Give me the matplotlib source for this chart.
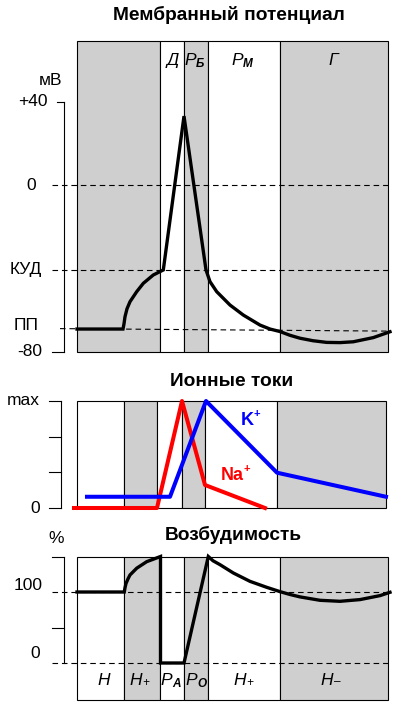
import matplotlib
matplotlib.use('Agg')
import matplotlib.pyplot as plt
from matplotlib.patches import Rectangle

plt.rcParams['font.family'] = ['Liberation Sans', 'DejaVu Sans']

W, H = 396, 710

# --- Membrane potential (time in arbitrary units, mV) ---
mp_t = [77, 123, 124, 125, 127, 130, 136.7, 143.3, 153.3, 163.3, 184, 206, 210, 216.7,
        230, 243.3, 260, 270, 280, 290, 300, 313, 326.7, 340, 353.3, 373.3, 390]
mp_v = [-69.0, -69.0, -66.5, -63.1, -59.3, -55.9, -51.1, -47.1, -43.1, -40.7, 33.0,
        -40.7, -46.3, -51.1, -57.5, -62.3, -67.1, -69.0, -70.2, -72.0, -73.4, -74.6,
        -75.4, -75.5, -75.1, -73.1, -70.3]
mp_edges = [77, 160, 184, 208, 280, 388]
mp_shaded = [True, False, True, False, True]
mp_top, mp_bottom = 69, -80
kud, pp = -40.7, -68.8

# --- Ionic currents (relative to max) ---
na_t = [74, 157, 182, 205, 265]
na_i = [0.0, 0.0, 1.0, 0.215, 0.0]
k_t = [87, 170, 206, 277, 386]
k_i = [0.105, 0.105, 1.0, 0.33, 0.105]
ion_edges = [77, 124, 157, 182, 205, 277, 386]
ion_shaded = [False, True, False, True, False, True]
ion_ticks = [0, 1 / 3, 2 / 3, 1]

# --- Excitability (%) ---
ex_t = [77, 124.3, 125, 126, 128, 130, 136.7, 146.7, 160.5, 160.5, 184, 208.3, 213,
        220, 233.3, 250, 266.7, 280, 290, 300, 320, 340, 360, 380, 390]
ex_v = [100, 100, 106, 112, 118.5, 124, 133.5, 142.7, 150, 0, 0, 150, 144,
        138.5, 126.8, 115, 106.6, 100.5, 96.5, 93.1, 88.3, 86.9, 89.3, 94.9, 99.6]
ex_edges = [77, 124, 160, 184, 208, 280, 388]
ex_shaded = [False, True, False, True, False, True]
ex_top, ex_bottom = 150, -52

SHADE = '#cfcfcf'
LBL = 12.5      # axis labels
TTL = 13.8      # panel titles
fig = plt.figure(figsize=(W / 100, H / 100), dpi=100)


def band_axes(py_top, py_bot, p0, v0, p1, v1):
    # axes spanning full width, x in diagram time units, y linear in panel units
    k = (v1 - v0) / (p1 - p0)
    ax = fig.add_axes([0, 1 - py_bot / H, 1, (py_bot - py_top) / H])
    ax.set_xlim(0, W)
    ax.set_ylim(v0 + k * (py_bot - p0), v0 + k * (py_top - p0))
    ax.axis('off')
    return ax


def phases(ax, edges, shaded, y0, y1):
    for a, b, s in zip(edges[:-1], edges[1:], shaded):
        ax.add_patch(Rectangle((a, y0), b - a, y1 - y0, facecolor=SHADE if s else 'white',
                               edgecolor='black', lw=0.8, zorder=1))


def dashed(ax, x0, x1, y0, y1=None):
    ax.plot([x0, x1], [y0, y0 if y1 is None else y1], color='black', lw=0.8,
            ls=(0, (5, 3.5)), zorder=2, clip_on=False)


def txt(x, y, s, **kw):
    kw.setdefault('va', 'baseline')
    return fig.text(x / W, 1 - y / H, s, **kw)


def sub_label(x, y, main, sub, size=12.5, sub_size=8.5, dy=2, sub_weight='bold'):
    txt(x + 1, y, main, ha='right', fontsize=size, style='italic')
    txt(x + 1, y + dy, sub, ha='left', fontsize=sub_size, style='italic', weight=sub_weight)


# ---------------- panel 1 ----------------
ax1 = band_axes(25, 362, 185, 0, 352, -80)
phases(ax1, mp_edges, mp_shaded, mp_bottom, mp_top)
ax1.plot([64, 64], [40, -80], color='black', lw=0.8, clip_on=False)
ax1.plot([57, 64], [40, 40], color='black', lw=0.8, clip_on=False)
ax1.plot([52, 64], [-80, -80], color='black', lw=0.8, clip_on=False)
dashed(ax1, 52, 388, 0)
dashed(ax1, 52, 388, kud)
dashed(ax1, 60, 390, pp, -70.0)
ax1.plot(mp_t, mp_v, color='black', lw=2.4, zorder=3, solid_joinstyle='miter', clip_on=False)

txt(229, 20.5, 'Мембранный потенциал', ha='center', fontsize=TTL, weight='bold')
txt(51, 85, 'мВ', ha='center', fontsize=LBL)
txt(48, 106, '+40', ha='right', fontsize=LBL)
txt(36, 190, '0', ha='right', fontsize=LBL)
txt(42, 274, 'КУД', ha='right', fontsize=LBL)
txt(39, 330, 'ПП', ha='right', fontsize=LBL)
txt(42, 356, '-80', ha='right', fontsize=LBL)
txt(173, 65, 'Д', ha='center', fontsize=LBL, style='italic')
sub_label(195, 65, 'Р', 'Б')
sub_label(242, 65, 'Р', 'М')
txt(333, 65, 'Г', ha='center', fontsize=LBL, style='italic')

# ---------------- panel 2 ----------------
ax2 = band_axes(365, 520, 508, 0, 401, 1)
phases(ax2, ion_edges, ion_shaded, 0, 1)
ax2.plot([61, 61], [0, 1], color='black', lw=0.8, clip_on=False)
for v in ion_ticks:
    ax2.plot([49, 61], [v, v], color='black', lw=0.8, clip_on=False)
ax2.plot(na_t, na_i, color='#ff0000', lw=2.9, zorder=3, clip_on=False)
ax2.plot(k_t, k_i, color='#0000ff', lw=2.9, zorder=4, clip_on=False)

txt(232, 386, 'Ионные токи', ha='center', fontsize=TTL, weight='bold')
txt(7, 405, 'max', ha='left', fontsize=LBL)
txt(40, 513, '0', ha='right', fontsize=LBL)
txt(241, 425, 'K', ha='left', fontsize=13, weight='bold', color='#0000ff')
txt(253.5, 417, '+', ha='left', fontsize=8, weight='bold', color='#0000ff')
txt(221, 480, 'Na', ha='left', fontsize=13, weight='bold', color='#ff0000')
txt(244, 472, '+', ha='left', fontsize=8, weight='bold', color='#ff0000')

# ---------------- panel 3 ----------------
ax3 = band_axes(520, 710, 663, 0, 592, 100)
phases(ax3, ex_edges, ex_shaded, ex_bottom, ex_top)
ax3.plot([64, 64], [150, 0], color='black', lw=0.8, clip_on=False)
for v in (150, 50):
    ax3.plot([52, 64], [v, v], color='black', lw=0.8, clip_on=False)
dashed(ax3, 52, 388, 100)
dashed(ax3, 52, 388, 0)
ax3.plot(ex_t, ex_v, color='black', lw=2.4, zorder=3, solid_joinstyle='miter', clip_on=False)

txt(233, 540, 'Возбудимость', ha='center', fontsize=TTL, weight='bold')
txt(56, 543, '%', ha='center', fontsize=LBL)
txt(43, 590, '100', ha='right', fontsize=LBL)
txt(40, 658, '0', ha='right', fontsize=LBL)
txt(104, 685, 'Н', ha='center', fontsize=LBL, style='italic')
sub_label(141, 685, 'Н', '+', sub_weight='normal', dy=1)
sub_label(171, 685, 'Р', 'А')
sub_label(196, 685, 'Р', 'О')
sub_label(245, 685, 'Н', '+', sub_weight='normal', dy=1)
sub_label(332, 685, 'Н', '–', sub_weight='normal', dy=0)

fig.savefig('out.png', dpi=100)
